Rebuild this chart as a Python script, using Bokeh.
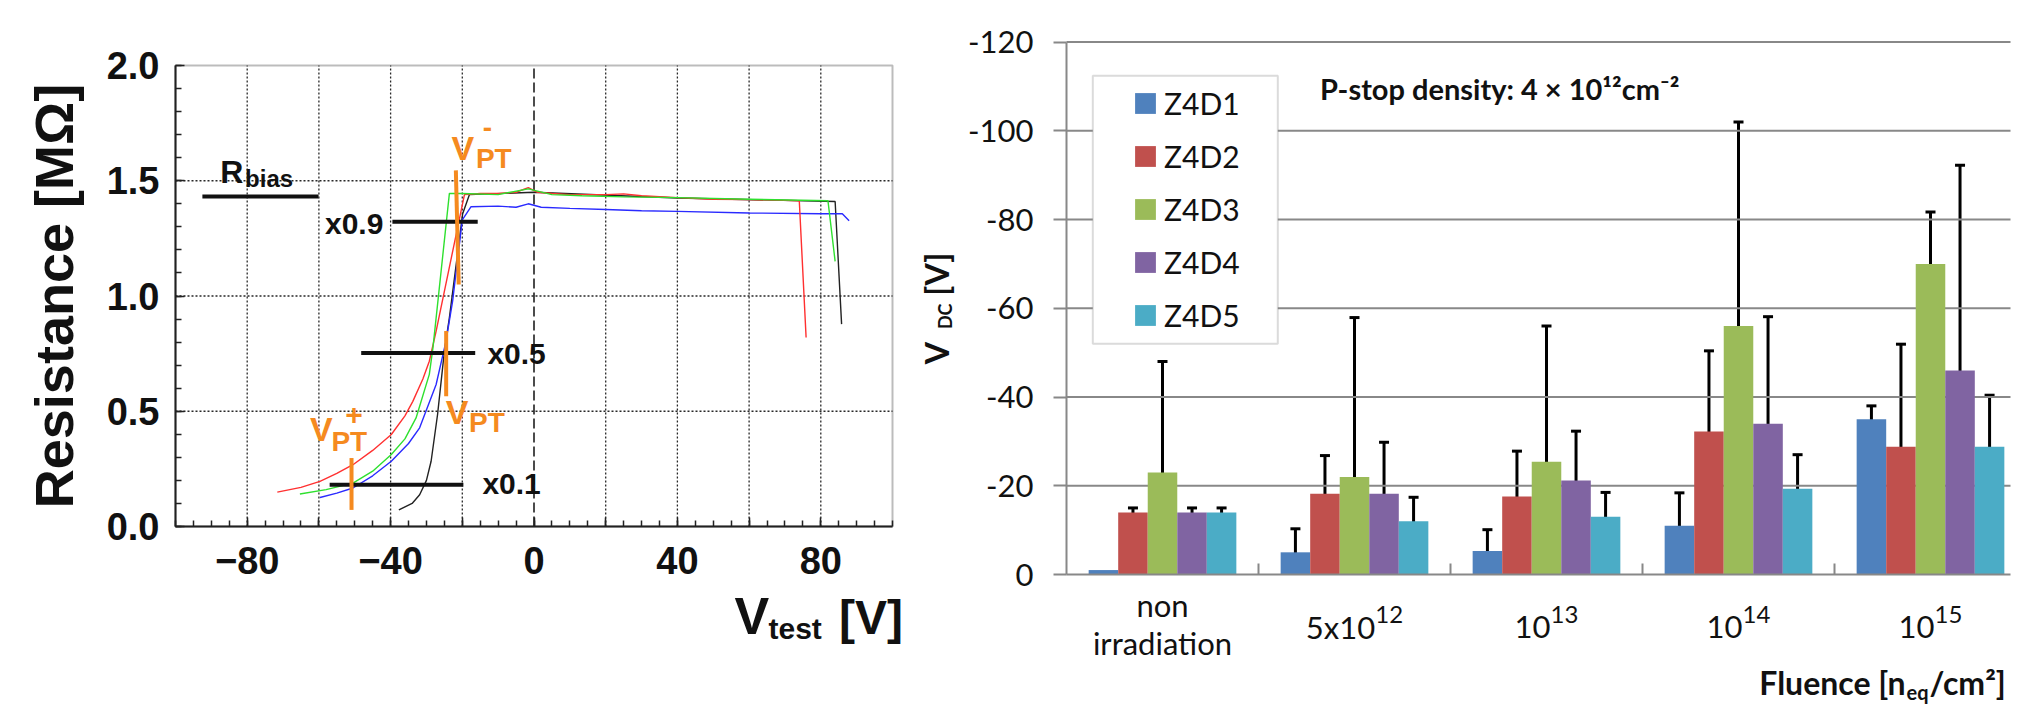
import math
from bokeh.plotting import figure
from bokeh.models import (Range1d, FixedTicker, Label, Whisker, TeeHead, NumeralTickFormatter,
                          ColumnDataSource, Legend, LegendItem, BoxAnnotation)
from bokeh.layouts import row
from bokeh.embed import file_html
from bokeh.resources import INLINE

# ---------------- Left panel: resistance vs test voltage ----------------
red_v = [-71.6, -65, -59.7, -55, -50.5, -45, -39.8, -36, -33.8, -31, -29.2, -27.3, -19.4,
         -15, -10, -5, -1.6, 1, 5, 10, 20, 25, 30, 40, 50, 60, 70, 74, 75.9]
red_r = [0.149, 0.170, 0.196, 0.230, 0.268, 0.330, 0.399, 0.480, 0.543, 0.640, 0.717, 0.848, 1.440,
         1.445, 1.445, 1.450, 1.470, 1.450, 1.445, 1.440, 1.440, 1.443, 1.435, 1.427, 1.420, 1.418, 1.415, 1.413, 0.82]
green_v = [-65.3, -58, -50.5, -45, -39.8, -36, -32.9, -29.2, -28.2, -23.6, -20, -10, -1.6,
           5, 13.4, 25, 40, 60, 82, 84]
green_r = [0.141, 0.160, 0.188, 0.240, 0.312, 0.380, 0.471, 0.660, 0.774, 1.445, 1.445, 1.440, 1.465,
           1.440, 1.435, 1.430, 1.427, 1.420, 1.413, 1.15]
blue_v = [-59.7, -55, -50.5, -45, -39.8, -35, -31.9, -27.3, -24.6, -22.7, -20, -17.6, -10, -5,
          -1.6, 2, 10, 20, 30, 40, 60, 80, 86, 87.9]
blue_r = [0.126, 0.145, 0.167, 0.220, 0.283, 0.360, 0.428, 0.616, 0.800, 0.978, 1.330, 1.387, 1.390, 1.385,
          1.400, 1.385, 1.380, 1.375, 1.370, 1.367, 1.360, 1.357, 1.357, 1.326]
black_v = [-37.7, -34, -31.9, -30, -28.7, -26.9, -25, -23.6, -19.9, -18, 0, 40, 84, 85.8]
black_r = [0.072, 0.100, 0.138, 0.200, 0.283, 0.486, 0.760, 0.906, 1.357, 1.440, 1.450, 1.425, 1.410, 0.878]

# horizontal guide bars (R_bias, x0.9, x0.5, x0.1)
guide_x0 = [-92.5, -39.5, -48.2, -57.0]
guide_x1 = [-60.1, -15.7, -16.4, -19.7]
guide_y = [1.432, 1.322, 0.753, 0.181]
# V_PT markers
vpt_x0 = [-21.8, -24.5, -50.9]
vpt_x1 = [-21.0, -24.5, -50.9]
vpt_y0 = [1.545, 0.848, 0.297]
vpt_y1 = [1.050, 0.565, 0.072]

x_major = [-80, -60, -40, -20, 0, 20, 40, 60, 80]
x_labels = {-60: "", -20: "", 20: "", 60: ""}
y_major = [0, 0.5, 1.0, 1.5, 2.0]

# ---------------- Right panel: V_DC vs fluence ----------------
fluence_base = ["non irradiation", "5x10", "10", "10", "10"]
fluence_exp = ["", "12", "13", "14", "15"]
series = ["Z4D1", "Z4D2", "Z4D3", "Z4D4", "Z4D5"]
colors = ["#4F81BD", "#C0504D", "#9BBB59", "#8064A2", "#4BACC6"]
z4d1 = [-1.0, -5.0, -5.3, -11.0, -35.0]
z4d2 = [-14.0, -18.2, -17.6, -32.2, -28.8]
z4d3 = [-23.0, -22.0, -25.4, -56.0, -70.0]
z4d4 = [-14.0, -18.2, -21.2, -34.0, -46.0]
z4d5 = [-14.0, -12.0, -13.0, -19.3, -28.8]
z4d1_lo = [None, -2.0, -2.0, -6.9, -27.2]
z4d1_hi = [None, -10.3, -10.1, -18.4, -38.0]
z4d2_lo = [-12.9, -12.0, -12.0, -22.5, -27.3]
z4d2_hi = [-15.0, -26.8, -27.8, -50.4, -51.9]
z4d3_lo = [-22.0, -12.9, -13.9, -26.0, -64.6]
z4d3_hi = [-48.0, -57.9, -56.0, -102.0, -81.7]
z4d4_lo = [-12.9, -12.0, -14.2, -23.0, -39.4]
z4d4_hi = [-15.0, -29.8, -32.3, -58.1, -92.2]
z4d5_lo = [-12.9, -9.5, -10.1, -14.2, -21.9]
z4d5_hi = [-15.0, -17.4, -18.5, -27.0, -40.4]
y_ticks_r = [0, -20, -40, -60, -80, -100, -120]

values = [z4d1, z4d2, z4d3, z4d4, z4d5]
lows = [z4d1_lo, z4d2_lo, z4d3_lo, z4d4_lo, z4d5_lo]
highs = [z4d1_hi, z4d2_hi, z4d3_hi, z4d4_hi, z4d5_hi]

ORANGE = "#F58A1F"
FL = "Liberation Sans"
FR = "Lato"

# ---------------- page layout (pixels; the page body has no margin) ----------------
FIG_Y0, FIG_Y1 = 0, 708
H = FIG_Y1 - FIG_Y0
L_X0, L_X1 = 0, 908            # left figure extent on page
R_X0, R_X1 = 908, 2016         # right figure extent on page
LB_L, LB_R, LB_T, LB_B = 175, 892, 65, 526   # left plotting box
RB_L, CAT_W, RB_TOP, RB_ZERO = 1066, 192, 41.5, 574  # right plotting area
R_GRID_END = 2010
BASE_SHIFT = 0.36   # em: lifts labels so their alphabetic baseline sits on the anchor

lsx = (LB_R - LB_L) / 200.0
lsy = (LB_B - LB_T) / 2.0
L_XR = (-100 - (LB_L - L_X0) / lsx, 100 + (L_X1 - LB_R) / lsx)
L_YR = (0 - (FIG_Y1 - LB_B) / lsy, 2 + (LB_T - FIG_Y0) / lsy)
rsy = (RB_ZERO - RB_TOP) / 120.0
R_XR = (-(RB_L - R_X0) / CAT_W, (R_X1 - RB_L) / CAT_W)
R_YR = ((FIG_Y1 - RB_ZERO) / rsy, -120 - (RB_TOP - FIG_Y0) / rsy)
R_XEND = (R_GRID_END - RB_L) / CAT_W


def lab(p, text, x, y, size, color="#111111", font=FL, style="bold", align="left",
        baseline="alphabetic", angle=0.0, xo=0, yo=0):
    if baseline == "alphabetic":
        if angle == 0.0:
            yo += BASE_SHIFT * size
        else:
            xo -= BASE_SHIFT * size
    p.add_layout(Label(x=x, y=y, text=text, text_font=font, text_font_style=style,
                       text_font_size=f"{size}px", text_color=color, text_align=align,
                       text_baseline=baseline, angle=angle, x_offset=xo, y_offset=yo))


# ======================= left figure =======================
p1 = figure(width=L_X1 - L_X0, height=H, x_range=Range1d(*L_XR), y_range=Range1d(*L_YR),
            output_backend="svg", toolbar_location=None,
            min_border=0, min_border_left=0, min_border_right=0,
            min_border_top=0, min_border_bottom=0)
p1.outline_line_color = None
p1.grid.visible = False
p1.xaxis.fixed_location = 0
p1.xaxis.bounds = (-100, 100)
p1.yaxis.fixed_location = -100
p1.yaxis.bounds = (0, 2)
p1.xaxis.ticker = FixedTicker(ticks=x_major, minor_ticks=list(range(-100, 101, 5)))
p1.xaxis.major_label_overrides = x_labels
p1.yaxis.ticker = FixedTicker(ticks=y_major, minor_ticks=[round(0.1 * k, 1) for k in range(21)])
p1.yaxis.formatter = NumeralTickFormatter(format="0.0")
p1.yaxis.major_label_overrides = {"0": "0"}
for ax in (p1.xaxis[0], p1.yaxis[0]):
    ax.major_label_text_font = FL
    ax.major_label_text_font_style = "bold"
    ax.major_label_text_font_size = "38px"
    ax.major_label_text_color = "#111111"
    ax.major_tick_in = 9
    ax.major_tick_out = 0
    ax.minor_tick_in = 6
    ax.minor_tick_out = 0
    ax.major_tick_line_width = 1.5
    ax.minor_tick_line_width = 1.5
    ax.major_tick_line_color = "#222222"
    ax.minor_tick_line_color = "#222222"
    ax.axis_line_width = 2
    ax.axis_line_color = "#222222"
p1.xaxis.major_label_standoff = 20
p1.yaxis.major_label_standoff = 16

# dotted grid inside the box
gx = [v for v in x_major if v != 0]
p1.segment(x0=gx, y0=[0] * len(gx), x1=gx, y1=[2] * len(gx),
           line_color="#111111", line_dash="2 2", line_width=1.3, line_alpha=0.9)
gy = [0.5, 1.0, 1.5]
p1.segment(x0=[-100] * len(gy), y0=gy, x1=[100] * len(gy), y1=gy,
           line_color="#111111", line_dash="2 2", line_width=1.3, line_alpha=0.9)
p1.segment(x0=[0], y0=[0], x1=[0], y1=[2], line_color="#111111", line_dash="10 4", line_width=1.5)

p1.line(black_v, black_r, line_color="#222222", line_width=1.4)
p1.line(blue_v, blue_r, line_color="#2a2aff", line_width=1.4)
p1.line(red_v, red_r, line_color="#ff3030", line_width=1.4)
p1.line(green_v, green_r, line_color="#2ee02e", line_width=1.4)

p1.segment(x0=guide_x0, y0=guide_y, x1=guide_x1, y1=guide_y, line_color="#111111", line_width=4)
p1.segment(x0=vpt_x0, y0=vpt_y0, x1=vpt_x1, y1=vpt_y1, line_color=ORANGE, line_width=4)
p1.add_layout(BoxAnnotation(left=-100, right=100, bottom=0, top=2, fill_color=None,
                            line_color="#222222", line_width=2))

# guide labels
lab(p1, "R", -87.5, 1.486, 32)
lab(p1, "bias", -80.6, 1.471, 24)
lab(p1, "x0.9", -58.3, 1.268, 30)
lab(p1, "x0.5", -13.0, 0.703, 30)
lab(p1, "x0.1", -14.4, 0.138, 30)
# V_PT labels
lab(p1, "V", -23.0, 1.587, 34, ORANGE)
lab(p1, "PT", -16.2, 1.551, 28, ORANGE)
lab(p1, "-", -13.0, 1.689, 28, ORANGE, align="center")
lab(p1, "V", -24.6, 0.442, 34, ORANGE)
lab(p1, "PT", -18.1, 0.406, 28, ORANGE)
lab(p1, "V", -62.5, 0.370, 34, ORANGE)
lab(p1, "PT", -56.5, 0.326, 28, ORANGE)
lab(p1, "+", -50.2, 0.435, 30, ORANGE, align="center")
# axis titles
lab(p1, "V", 55.9, -0.4696, 52)
lab(p1, "test", 65.4, -0.491, 30)
lab(p1, "[V]", 85.1, -0.4696, 48)
lab(p1, "Resistance [MΩ]", -134, 1.0, 54, align="center", baseline="middle", angle=math.pi / 2)

# ======================= right figure =======================
p2 = figure(width=R_X1 - R_X0, height=H, x_range=Range1d(*R_XR), y_range=Range1d(*R_YR),
            output_backend="svg", toolbar_location=None,
            min_border=0, min_border_left=0, min_border_right=0,
            min_border_top=0, min_border_bottom=0)
p2.outline_line_color = None
p2.grid.visible = False
nc = len(fluence_base)
p2.yaxis.fixed_location = 0
p2.yaxis.bounds = (-120, 0)
p2.xaxis.fixed_location = 0
p2.xaxis.bounds = (0, R_XEND)
p2.yaxis.ticker = FixedTicker(ticks=y_ticks_r, minor_ticks=[])
p2.yaxis.major_label_overrides = {t: str(t) for t in y_ticks_r}
p2.yaxis.major_label_text_font = FR
p2.yaxis.major_label_text_font_size = "31px"
p2.yaxis.major_label_text_color = "#111111"
p2.yaxis.major_label_standoff = 20
p2.yaxis.major_tick_out = 13
p2.yaxis.major_tick_in = 0
p2.yaxis.minor_tick_line_color = None
p2.xaxis.ticker = FixedTicker(ticks=list(range(1, nc)), minor_ticks=[])
p2.xaxis.major_label_overrides = {k: "" for k in range(1, nc)}
p2.xaxis.major_tick_in = 11
p2.xaxis.major_tick_out = 0
p2.xaxis.minor_tick_line_color = None
for ax in (p2.xaxis[0], p2.yaxis[0]):
    ax.axis_line_color = "#888888"
    ax.axis_line_width = 2
    ax.major_tick_line_color = "#888888"
    ax.major_tick_line_width = 2

# horizontal gridlines
gyr = [t for t in y_ticks_r if t != 0]
p2.segment(x0=[0] * len(gyr), y0=gyr, x1=[R_XEND] * len(gyr), y1=gyr,
           line_color="#888888", line_width=2)

BW = 1 / 6.5
bar_renderers = []
for j, (name, col) in enumerate(zip(series, colors)):
    xs = [i + 0.5 + (j - 2) * BW for i in range(nc)]
    r = p2.vbar(x=xs, top=values[j], bottom=0, width=BW, fill_color=col, line_color=None)
    bar_renderers.append(r)
for j in range(len(series)):
    xs = [i + 0.5 + (j - 2) * BW for i in range(nc)]
    keep = [i for i in range(nc) if lows[j][i] is not None]
    src = ColumnDataSource(dict(x=[xs[i] for i in keep], lo=[lows[j][i] for i in keep],
                                hi=[highs[j][i] for i in keep]))
    p2.add_layout(Whisker(source=src, base="x", lower="lo", upper="hi", dimension="height",
                          line_color="black", line_width=3,
                          lower_head=TeeHead(size=10, line_width=3, line_color="black"),
                          upper_head=TeeHead(size=10, line_width=3, line_color="black")))

# legend frame + legend
p2.add_layout(BoxAnnotation(left=0.137, right=1.1005, top=-112.4, bottom=-52.0,
                            fill_color="white", fill_alpha=1.0,
                            line_color="#888888", line_width=2))
leg = Legend(items=[LegendItem(label=s, renderers=[r]) for s, r in zip(series, bar_renderers)],
             location=(1132 - R_X0, FIG_Y1 - 334), orientation="vertical", padding=0, spacing=15,
             glyph_width=26, glyph_height=26, label_height=38, label_standoff=6,
             label_text_font=FR, label_text_font_size="30px", label_text_color="#111111",
             border_line_alpha=0, background_fill_alpha=0)
p2.add_layout(leg)


def approx_w(s, size):
    widths = {"x": 0.50, " ": 0.25}
    return sum(widths.get(ch, 0.58) for ch in s) * size


# category labels
for i, (b, e) in enumerate(zip(fluence_base, fluence_exp)):
    cx = i + 0.5
    if e == "":
        words = b.split(" ")
        lab(p2, words[0], cx, 9.4, 31, font=FR, style="normal", align="center")
        lab(p2, words[1], cx, 18.0, 31, font=FR, style="normal", align="center")
    else:
        tot = approx_w(b, 31) + approx_w(e, 24)
        lab(p2, b, cx, 14.4, 31, font=FR, style="normal", xo=-tot / 2)
        lab(p2, e, cx, 11.0, 24, font=FR, style="normal", xo=-tot / 2 + approx_w(b, 31))

# titles
lab(p2, "P-stop density: 4 × 10¹²cm⁻²", 1.32, -107.2, 29, font=FR)
lab(p2, "Fluence [n", 4.370, 27.0, 32, font=FR, align="right")
lab(p2, "eq", 4.370, 28.2, 20, font=FR, xo=1)
lab(p2, "/cm²]", 4.370, 27.0, 32, font=FR, xo=24)
lab(p2, "V", -0.6146, -47.4, 32, font=FR, angle=math.pi / 2)
lab(p2, "DC", -0.60, -55.3, 18, font=FR, angle=math.pi / 2)
lab(p2, "[V]", -0.6146, -62.8, 32, font=FR, angle=math.pi / 2)

layout = row(p1, p2)
open("out.html", "w").write(file_html(layout, INLINE))
